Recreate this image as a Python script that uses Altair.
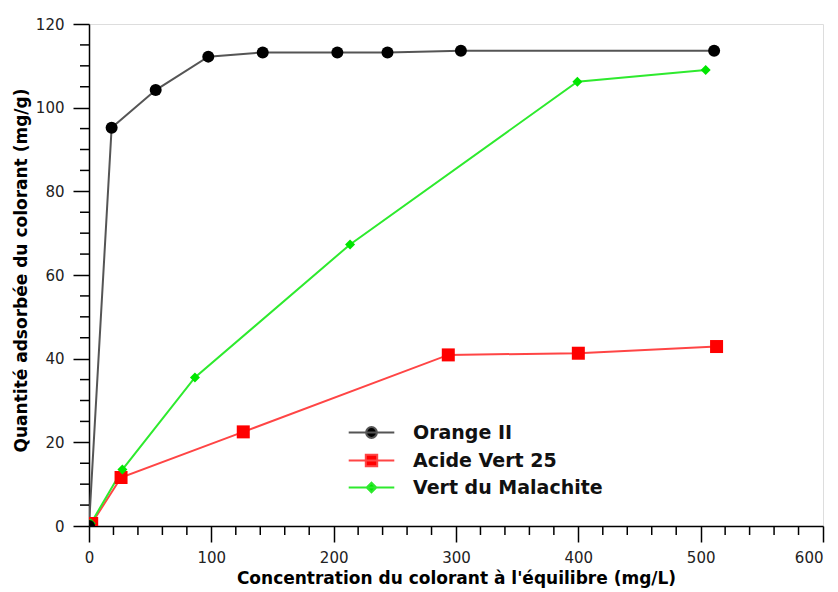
import altair as alt
import pandas as pd

series_names = ["Orange II", "Acide Vert 25", "Vert du Malachite"]

orange_x = [0, 18.5, 54.5, 97.5, 142, 203, 244, 304, 511]
orange_y = [0, 95.2, 104.2, 112.2, 113.2, 113.2, 113.2, 113.6, 113.6]

acide_x = [2.2, 26.2, 126.1, 293.7, 400, 513]
acide_y = [0.6, 11.6, 22.5, 40.9, 41.3, 42.9]

vert_x = [1.5, 27.3, 86.6, 213.4, 399.2, 504.1]
vert_y = [0.6, 13.5, 35.5, 67.3, 106.2, 109.0]

marker_colors = ["#000000", "#ff0000", "#00e600"]
line_colors = ["#555555", "#ff4545", "#2eea2e"]
shapes = ["circle", "square", "diamond"]
sizes = [144, 169, 100]
# legend symbols: a short line with the marker in its middle
legend_shapes = [
    "M-3.8,0H3.8M0.9,0A0.9,0.9,0,1,1,-0.9,0A0.9,0.9,0,1,1,0.9,0Z",
    "M-3.8,0H3.8M-0.95,-0.95H0.95V0.95H-0.95Z",
    "M-3.8,0H3.8M0,-0.8L0.8,0L0,0.8L-0.8,0Z",
]

x_major = [0, 100, 200, 300, 400, 500, 600]
y_major = [0, 20, 40, 60, 80, 100, 120]
x_minor = [20, 40, 60, 80, 120, 140, 160, 180, 220, 240, 260, 280, 320, 340, 360, 380,
           420, 440, 460, 480, 520, 540, 560, 580]
y_minor = [5, 10, 15, 25, 30, 35, 45, 50, 55, 65, 70, 75, 85, 90, 95, 105, 110, 115]

rows = []
for name, xs, ys in zip(series_names, [orange_x, acide_x, vert_x], [orange_y, acide_y, vert_y]):
    for i, (a, b) in enumerate(zip(xs, ys)):
        rows.append({"series": name, "x": a, "y": b, "i": i})
df = pd.DataFrame(rows)

W, H = 734, 502
FONT = "DejaVu Sans"

xscale = alt.Scale(domain=[0, 600], nice=False, zero=False)
yscale = alt.Scale(domain=[0, 120], nice=False, zero=False)

xaxis = alt.Axis(values=x_major, title="Concentration du colorant à l'équilibre (mg/L)",
                 grid=False, tickSize=16, tickWidth=1.5, tickColor="#000", domainColor="#000",
                 domainWidth=1.5, labelFont=FONT, labelFontSize=15, labelColor="#222",
                 labelPadding=8, titleFont=FONT, titleFontSize=17, titleFontWeight="bold",
                 titleColor="#000", titleY=44, titleBaseline="top", labelFlush=False,
                 labelAlign=alt.expr("datum.value >= 600 ? 'right' : 'center'"))
yaxis = alt.Axis(values=y_major, title="Quantité adsorbée du colorant (mg/g)",
                 grid=False, tickSize=16, tickWidth=1.5, tickColor="#000", domainColor="#000",
                 domainWidth=1.5, labelFont=FONT, labelFontSize=15, labelColor="#222",
                 labelPadding=9, titleFont=FONT, titleFontSize=17, titleFontWeight="bold",
                 titleColor="#000", titleX=-59, titleY=246, labelFlush=False)

X = alt.X("x:Q", scale=xscale, axis=xaxis)
Y = alt.Y("y:Q", scale=yscale, axis=yaxis)

legend = alt.Legend(
    title=None, orient="none", legendX=273, legendY=399, padding=0,
    symbolSize=144, labelOffset=32, rowPadding=7, symbolStrokeWidth=2, labelLimit=400,
    labelFont=FONT, labelFontSize=19, labelFontWeight="bold", labelColor="#111",
)

line_layers = []
point_layers = []
for idx in [1, 2, 0]:
    name = series_names[idx]
    base = alt.Chart(df).transform_filter(alt.datum.series == name)
    line_layers.append(
        base.mark_line(strokeWidth=2, clip=True, color=line_colors[idx]).encode(
            x=X, y=Y, order="i:Q")
    )
    point_layers.append(
        base.mark_point(filled=True, opacity=1, strokeWidth=0, clip=True,
                        shape=shapes[idx], size=sizes[idx], color=marker_colors[idx]
                        ).encode(x=X, y=Y)
    )

legend_layer = alt.Chart(df).transform_filter("false").mark_point(filled=True, opacity=1).encode(
    x=X, y=Y,
    fill=alt.Fill("series:N", scale=alt.Scale(domain=series_names, range=marker_colors), legend=legend),
    stroke=alt.Stroke("series:N", scale=alt.Scale(domain=series_names, range=line_colors), legend=legend),
    shape=alt.Shape("series:N", scale=alt.Scale(domain=series_names, range=legend_shapes), legend=legend),
)

xminor_df = pd.DataFrame({"x": x_minor})
yminor_df = pd.DataFrame({"y": y_minor})

xminor = alt.Chart(xminor_df).mark_rule(color="#000", strokeWidth=1.5).encode(
    x=X, y=alt.value(H), y2=alt.value(H + 9)
)
yminor = alt.Chart(yminor_df).mark_rule(color="#000", strokeWidth=1.5).encode(
    y=Y, x=alt.value(0), x2=alt.value(-9)
)

chart = alt.layer(xminor, yminor, *line_layers, *point_layers, legend_layer).properties(
    width=W, height=H,
    autosize=alt.AutoSizeParams(type="none"),
    padding={"left": 81, "top": 16, "right": 7, "bottom": 64},
).configure_view(stroke=None).configure(background="white")

chart.save("out.html", embed_options={"renderer": "svg", "actions": False})
